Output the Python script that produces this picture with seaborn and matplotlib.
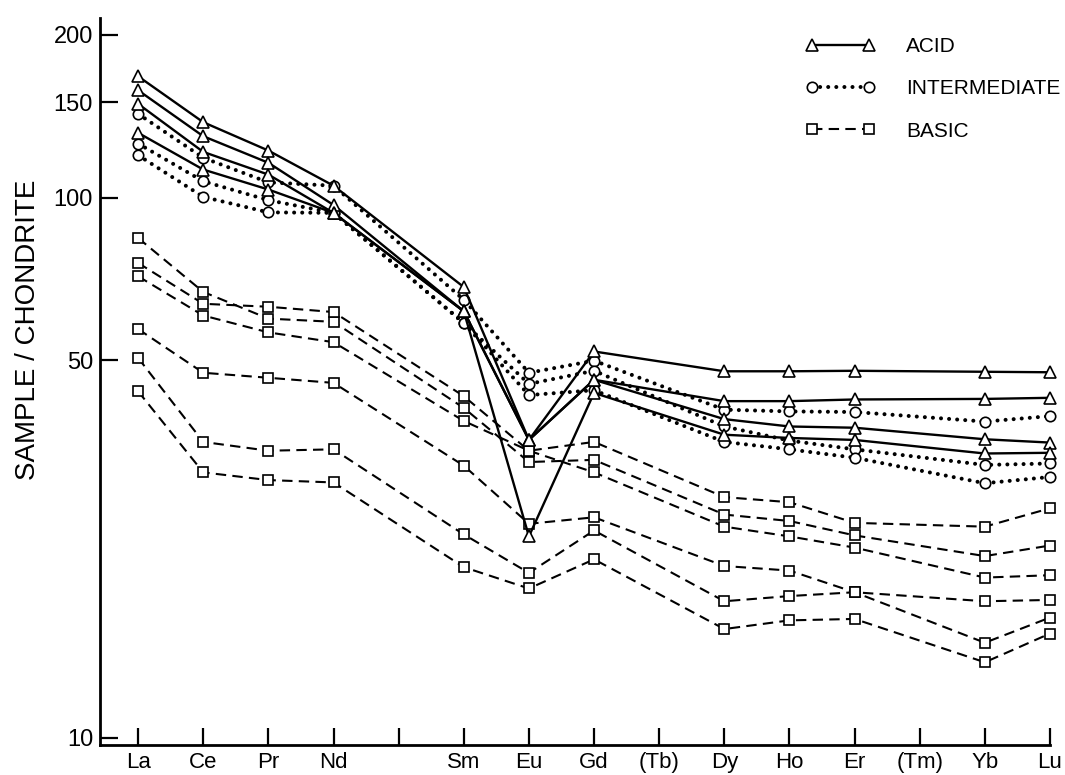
import numpy as np
import pandas as pd
import seaborn as sns
import matplotlib
matplotlib.use("Agg")
import matplotlib.pyplot as plt
from matplotlib.lines import Line2D

# ---- categories ----
axis_labels = ["La", "Ce", "Pr", "Nd", "", "Sm", "Eu", "Gd", "(Tb)", "Dy", "Ho", "Er", "(Tm)", "Yb", "Lu"]
measured = ["La", "Ce", "Pr", "Nd", "Sm", "Eu", "Gd", "Dy", "Ho", "Er", "Yb", "Lu"]

# ---- ACID samples ----
acid_1 = [167.7, 137.9, 122.2, 105.2, 68.3, 35.6, 51.9, 47.7, 47.7, 47.8, 47.6, 47.5]
acid_2 = [158.0, 129.9, 116.0, 96.9, 61.6, 35.6, 46.0, 42.0, 42.0, 42.3, 42.4, 42.6]
acid_3 = [149.1, 121.5, 110.3, 93.7, 61.6, 35.6, 46.0, 38.9, 37.7, 37.5, 35.7, 35.2]
acid_4 = [131.8, 112.7, 103.5, 93.7, 61.6, 23.6, 43.5, 36.4, 35.9, 35.6, 33.6, 33.7]

# ---- INTERMEDIATE samples ----
inter_1 = [142.9, 118.5, 106.7, 105.2, 64.7, 47.4, 49.9, 40.5, 40.2, 40.1, 38.5, 39.4]
inter_2 = [125.9, 107.2, 98.9, 93.7, 58.6, 45.2, 47.8, 37.7, 35.5, 34.2, 32.0, 32.2]
inter_3 = [119.8, 100.3, 93.9, 93.7, 58.6, 43.1, 44.0, 35.3, 34.2, 33.0, 29.6, 30.4]

# ---- BASIC samples ----
basic_1 = [84.2, 66.9, 59.7, 58.9, 40.8, 32.4, 32.7, 25.9, 25.2, 23.7, 21.7, 22.7]
basic_2 = [75.7, 63.6, 62.8, 61.4, 42.9, 34.0, 35.3, 27.9, 27.3, 25.0, 24.6, 26.6]
basic_3 = [71.5, 60.5, 56.3, 54.0, 38.6, 34.0, 31.0, 24.6, 23.6, 22.5, 19.8, 20.0]
basic_4 = [57.1, 47.4, 46.4, 45.4, 31.9, 24.9, 25.6, 20.8, 20.4, 18.6, 15.0, 16.7]
basic_5 = [50.5, 35.3, 34.0, 34.2, 23.8, 20.2, 24.2, 17.9, 18.3, 18.6, 17.9, 18.0]
basic_6 = [43.8, 31.0, 30.0, 29.7, 20.7, 18.9, 21.4, 15.9, 16.5, 16.6, 13.8, 15.6]

groups = {
    "ACID": [acid_1, acid_2, acid_3, acid_4],
    "INTERMEDIATE": [inter_1, inter_2, inter_3],
    "BASIC": [basic_1, basic_2, basic_3, basic_4, basic_5, basic_6],
}

rows = []
for g, series in groups.items():
    for i, vals in enumerate(series):
        for el, v in zip(measured, vals):
            rows.append({"group": g, "sample": f"{g}{i}", "pos": axis_labels.index(el), "value": v})
df = pd.DataFrame(rows)

sns.set_style("ticks")
plt.rcParams["font.family"] = ["Liberation Sans", "DejaVu Sans"]
plt.rcParams["text.color"] = "black"
plt.rcParams["axes.labelcolor"] = "black"
plt.rcParams["xtick.color"] = "black"
plt.rcParams["ytick.color"] = "black"
plt.rcParams["axes.edgecolor"] = "black"

fig = plt.figure(figsize=(10.65, 7.75), dpi=100)
ax = fig.add_axes([100 / 1065, 30 / 775, 950 / 1065, 727 / 775])

dot_ls = (0, (0.01, 2.0))
styles = {
    "ACID": dict(marker="^", ms=8.5, linestyle="-", lw=1.7),
    "INTERMEDIATE": dict(marker="o", ms=7.5, linestyle=dot_ls, lw=2.9, dash_capstyle="round"),
    "BASIC": dict(marker="s", ms=6.5, linestyle=(0, (5, 3)), lw=1.5),
}

for g in ["BASIC", "INTERMEDIATE", "ACID"]:
    sub = df[df["group"] == g]
    for s, d in sub.groupby("sample"):
        st = styles[g]
        sns.lineplot(data=d, x="pos", y="value", ax=ax, color="black",
                     marker=st["marker"], markersize=st["ms"], markerfacecolor="white",
                     markeredgecolor="black", markeredgewidth=1.2,
                     linestyle=st["linestyle"], linewidth=st["lw"],
                     dash_capstyle=st.get("dash_capstyle", "butt"),
                     estimator=None, sort=True, legend=False, clip_on=False)

ax.set_yscale("log")
ax.set_ylim(9.7, 215)
ax.set_xlim(-0.585, 14)
ax.set_yticks([10, 50, 100, 150, 200])
ax.set_yticklabels(["10", "50", "100", "150", "200"])
ax.yaxis.set_minor_locator(matplotlib.ticker.NullLocator())
ax.set_xticks(range(len(axis_labels)))
ax.set_xticklabels(axis_labels)
ax.tick_params(axis="y", direction="in", length=13, width=1.6, labelsize=17, pad=5)
ax.tick_params(axis="x", direction="in", length=12, width=1.6, labelsize=16, pad=5)

for side in ["top", "right"]:
    ax.spines[side].set_visible(False)
for side in ["left", "bottom"]:
    ax.spines[side].set_linewidth(2.0)

ax.set_xlabel("")
ax.set_ylabel("SAMPLE / CHONDRITE", fontsize=20)
ax.yaxis.set_label_coords(-0.062, 0.571)

handles = [
    Line2D([0], [0], color="black", marker="^", ms=8.5, mfc="white", mec="black", mew=1.2, lw=1.7, linestyle="-"),
    Line2D([0], [0], color="black", marker="o", ms=7.5, mfc="white", mec="black", mew=1.2, lw=2.9,
           linestyle=dot_ls, dash_capstyle="round"),
    Line2D([0], [0], color="black", marker="s", ms=6.5, mfc="white", mec="black", mew=1.2, lw=1.5,
           linestyle=(0, (5, 3))),
]
fig.legend(handles, ["ACID", "INTERMEDIATE", "BASIC"], loc="upper left",
           bbox_to_anchor=(806 / 1065, 1 - 37 / 775), frameon=False, numpoints=2,
           handlelength=3.3, handletextpad=1.5, labelspacing=1.12, fontsize=15,
           borderpad=0, borderaxespad=0)

fig.savefig("out.png", dpi=100)
